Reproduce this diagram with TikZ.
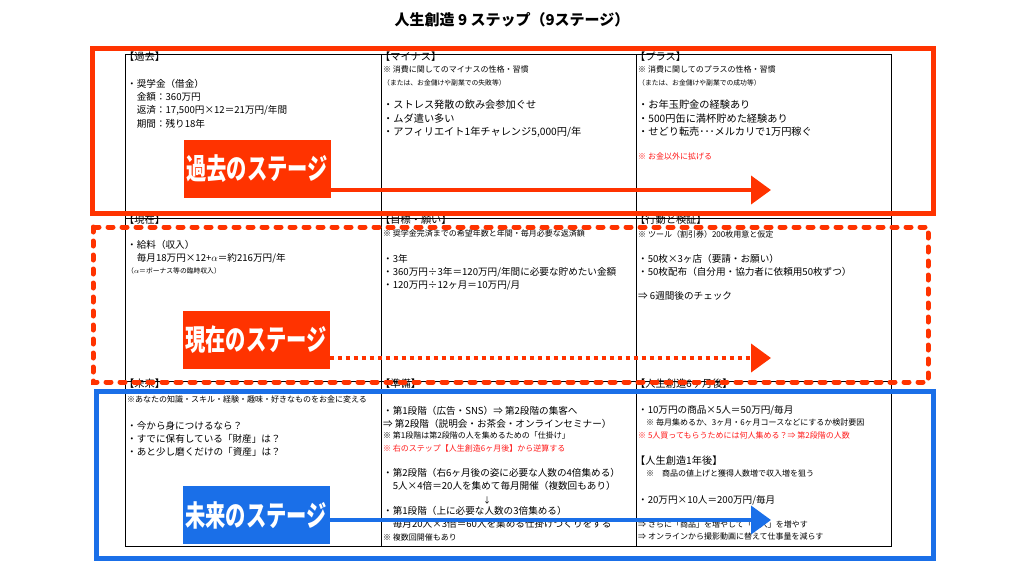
\documentclass[tikz,border=0pt]{standalone}
\usepackage{fontspec}
\setmainfont{Noto Sans CJK JP}
\usepackage{graphicx}
\usetikzlibrary{arrows.meta}
\definecolor{stagered}{HTML}{FF3300}
\definecolor{stageblue}{HTML}{1A6FE8}
\definecolor{notered}{HTML}{FF1A1A}
\newcommand{\fbig}{\fontsize{10.2}{13.4}\selectfont}
\newcommand{\fmid}{\fontsize{9.6}{13.2}\selectfont}
\newcommand{\fsml}{\fontsize{8}{12.6}\selectfont}
\newcommand{\ftny}{\fontsize{6.8}{12}\selectfont}
\newcommand{\ind}{\hspace*{1em}}
\begin{document}
\begin{tikzpicture}[x=1pt,y=-1pt]
    % cell texts
    \tikzstyle{txt}=[anchor=north west, inner sep=0, align=left]
    % stage banners
    \tikzstyle{banner}=[inner sep=0, minimum width=147pt, minimum height=58pt, text=white, font=\fontsize{29}{29}\selectfont\bfseries]
    \useasboundingbox (0,0) rectangle (1024,576);
    \node[font=\fontsize{15}{15}\selectfont\bfseries] (title) at (512,20) {人生創造 9 ステップ（9ステージ）};
    % table grid
    \draw[line width=.9pt] (125,54) rectangle (891,546);
    \foreach \x in {381,636} \draw[line width=.9pt] (\x,54) -- (\x,546);
    \foreach \y in {218,381} \draw[line width=.9pt] (125,\y) -- (891,\y);
    % past row
    \node[txt, font=\fbig] (pastH) at (124,52) {【過去】};
    \node[txt, font=\fmid] (pastT) at (127,79) {・奨学金（借金）\\
      \ind 金額：360万円\\ \ind 返済：17,500円×12＝21万円/年間\\ \ind 期間：残り18年};
    \node[txt, font=\fbig] (minusH) at (380,52) {【マイナス】};
    \node[txt, font=\fsml] (minusN) at (383,66) {※ 消費に関してのマイナスの性格・習慣};
    \node[txt, font=\ftny] (minusS) at (383,79) {（または、お金儲けや副業での失敗等）};
    \node[txt, font=\fbig] (minusT) at (383,100) {・ストレス発散の飲み会参加ぐせ\\・ムダ遣い多い\\・アフィリエイト1年チャレンジ5,000円/年};
    \node[txt, font=\fbig] (plusH) at (635,52) {【プラス】};
    \node[txt, font=\fsml] (plusN) at (638,66) {※ 消費に関してのプラスの性格・習慣};
    \node[txt, font=\ftny] (plusS) at (638,79) {（または、お金儲けや副業での成功等）};
    \node[txt, font=\fbig] (plusT) at (638,100) {・お年玉貯金の経験あり\\・500円缶に満杯貯めた経験あり\\・せどり転売･･･メルカリで1万円稼ぐ};
    \node[txt, font=\fsml, text=notered] (plusR) at (638,153) {※ お金以外に拡げる};
    % present row
    \node[txt, font=\fbig] (nowH) at (124,215) {【現在】};
    \node[txt, font=\fmid] (nowT) at (127,240) {・給料（収入）\\ \ind 毎月18万円×12+$\alpha$＝約216万円/年};
    \node[txt, font=\ftny] (nowS) at (127,267) {（$\alpha$＝ボーナス等の臨時収入）};
    \node[txt, font=\fbig] (goalH) at (380,215) {【目標・願い】};
    \node[txt, font=\fsml] (goalN) at (383,230) {※ 奨学金完済までの希望年数と年間・毎月必要な返済額};
    \node[txt, font=\fmid] (goalT) at (383,254) {・3年\\・360万円÷3年＝120万円/年間に必要な貯めたい金額\\・120万円÷12ヶ月＝10万円/月};
    \node[txt, font=\fbig] (actH) at (635,215) {【行動と検証】};
    \node[txt, font=\fsml] (actN) at (638,230) {※ ツール（割引券）200枚用意と仮定};
    \node[txt, font=\fmid] (actT) at (638,254) {・50枚×3ヶ店（要請・お願い）\\・50枚配布（自分用・協力者に依頼用50枚ずつ）};
    \node[txt, font=\fmid] (actC) at (638,291) {⇒ 6週間後のチェック};
    % future row
    \node[txt, font=\fbig] (futH) at (124,379) {【未来】};
    \node[txt, font=\fsml] (futN) at (127,396) {※あなたの知識・スキル・経験・趣味・好きなものをお金に変える};
    \node[txt, font=\fmid] (futT) at (127,421) {・今から身につけるなら？\\・すでに保有している「財産」は？\\・あと少し磨くだけの「資産」は？};
    \node[txt, font=\fbig] (prepH) at (380,379) {【準備】};
    \node[txt, font=\fmid] (prepA) at (383,406) {・第1段階（広告・SNS）⇒ 第2段階の集客へ\\⇒ 第2段階（説明会・お茶会・オンラインセミナー）};
    \node[txt, font=\fsml] (prepN) at (383,432) {※ 第1段階は第2段階の人を集めるための「仕掛け」};
    \node[txt, font=\fsml, text=notered] (prepR) at (383,445) {※ 右のステップ【人生創造6ヶ月後】から逆算する};
    \node[txt, font=\fmid] (prepB) at (383,468) {・第2段階（右6ヶ月後の姿に必要な人数の4倍集める）\\ \ind 5人×4倍＝20人を集めて毎月開催（複数回もあり）};
    \node[font=\fsml] (prepD) at (487,500) {↓};
    \node[txt, font=\fmid] (prepC) at (383,506) {・第1段階（上に必要な人数の3倍集める）\\ \ind 毎月20人×3倍＝60人を集める仕掛けづくりをする};
    \node[txt, font=\fsml] (prepE) at (383,534) {※ 複数回開催もあり};
    \node[txt, font=\fbig] (halfH) at (635,379) {【人生創造6ヶ月後】};
    \node[txt, font=\fmid] (halfT) at (638,405) {・10万円の商品×5人＝50万円/毎月};
    \node[txt, font=\fsml] (halfN) at (638,419) {\ind ※ 毎月集めるか、3ヶ月・6ヶ月コースなどにするか検討要因};
    \node[txt, font=\fsml, text=notered] (halfR) at (638,432) {※ 5人買ってもらうためには何人集める？⇒ 第2段階の人数};
    \node[txt, font=\fbig] (yearH) at (635,456) {【人生創造1年後】};
    \node[txt, font=\fsml] (yearN) at (638,470) {\ind ※　商品の値上げと獲得人数増で収入増を狙う};
    \node[txt, font=\fmid] (yearT) at (638,495) {・20万円×10人＝200万円/毎月};
    \node[txt, font=\fsml] (yearA) at (638,521) {⇒ さらに「商品」を増やして「収入」を増やす\\[-1.5pt]⇒ オンラインから撮影動画に替えて仕事量を減らす};
    % stage frames
    \draw[stagered, line width=5pt] (92,48) rectangle (933,213);
    \draw[stagered, line width=5pt, line cap=round, dash pattern=on 5pt off 9pt] (93,227) rectangle (928,382);
    \draw[stageblue, line width=5pt] (96,391) rectangle (933,558);
    % stage banners and arrows
    \node[banner, fill=stagered] (pastB) at (257,169) {\scalebox{.7}[1]{過去のステージ}};
    \node[banner, fill=stagered] (nowB) at (256,340) {\scalebox{.7}[1]{現在のステージ}};
    \node[banner, fill=stageblue] (futB) at (256,515) {\scalebox{.7}[1]{未来のステージ}};
    \coordinate (pastE) at (771,190);
    \coordinate (nowE) at (771,358);
    \coordinate (futE) at (771,520);
    \draw[stagered, line width=4pt, -{Triangle[length=20pt,width=28pt]}] (pastB.east |- pastE) -- (pastE);
    \draw[stagered, line width=4pt, dash pattern=on 4pt off 4pt, -{Triangle[length=20pt,width=28pt]}] (nowB.east |- nowE) -- (nowE);
    \draw[stageblue, line width=4pt, -{Triangle[length=20pt,width=28pt]}] (futB.east |- futE) -- (futE);
\end{tikzpicture}
\end{document}
